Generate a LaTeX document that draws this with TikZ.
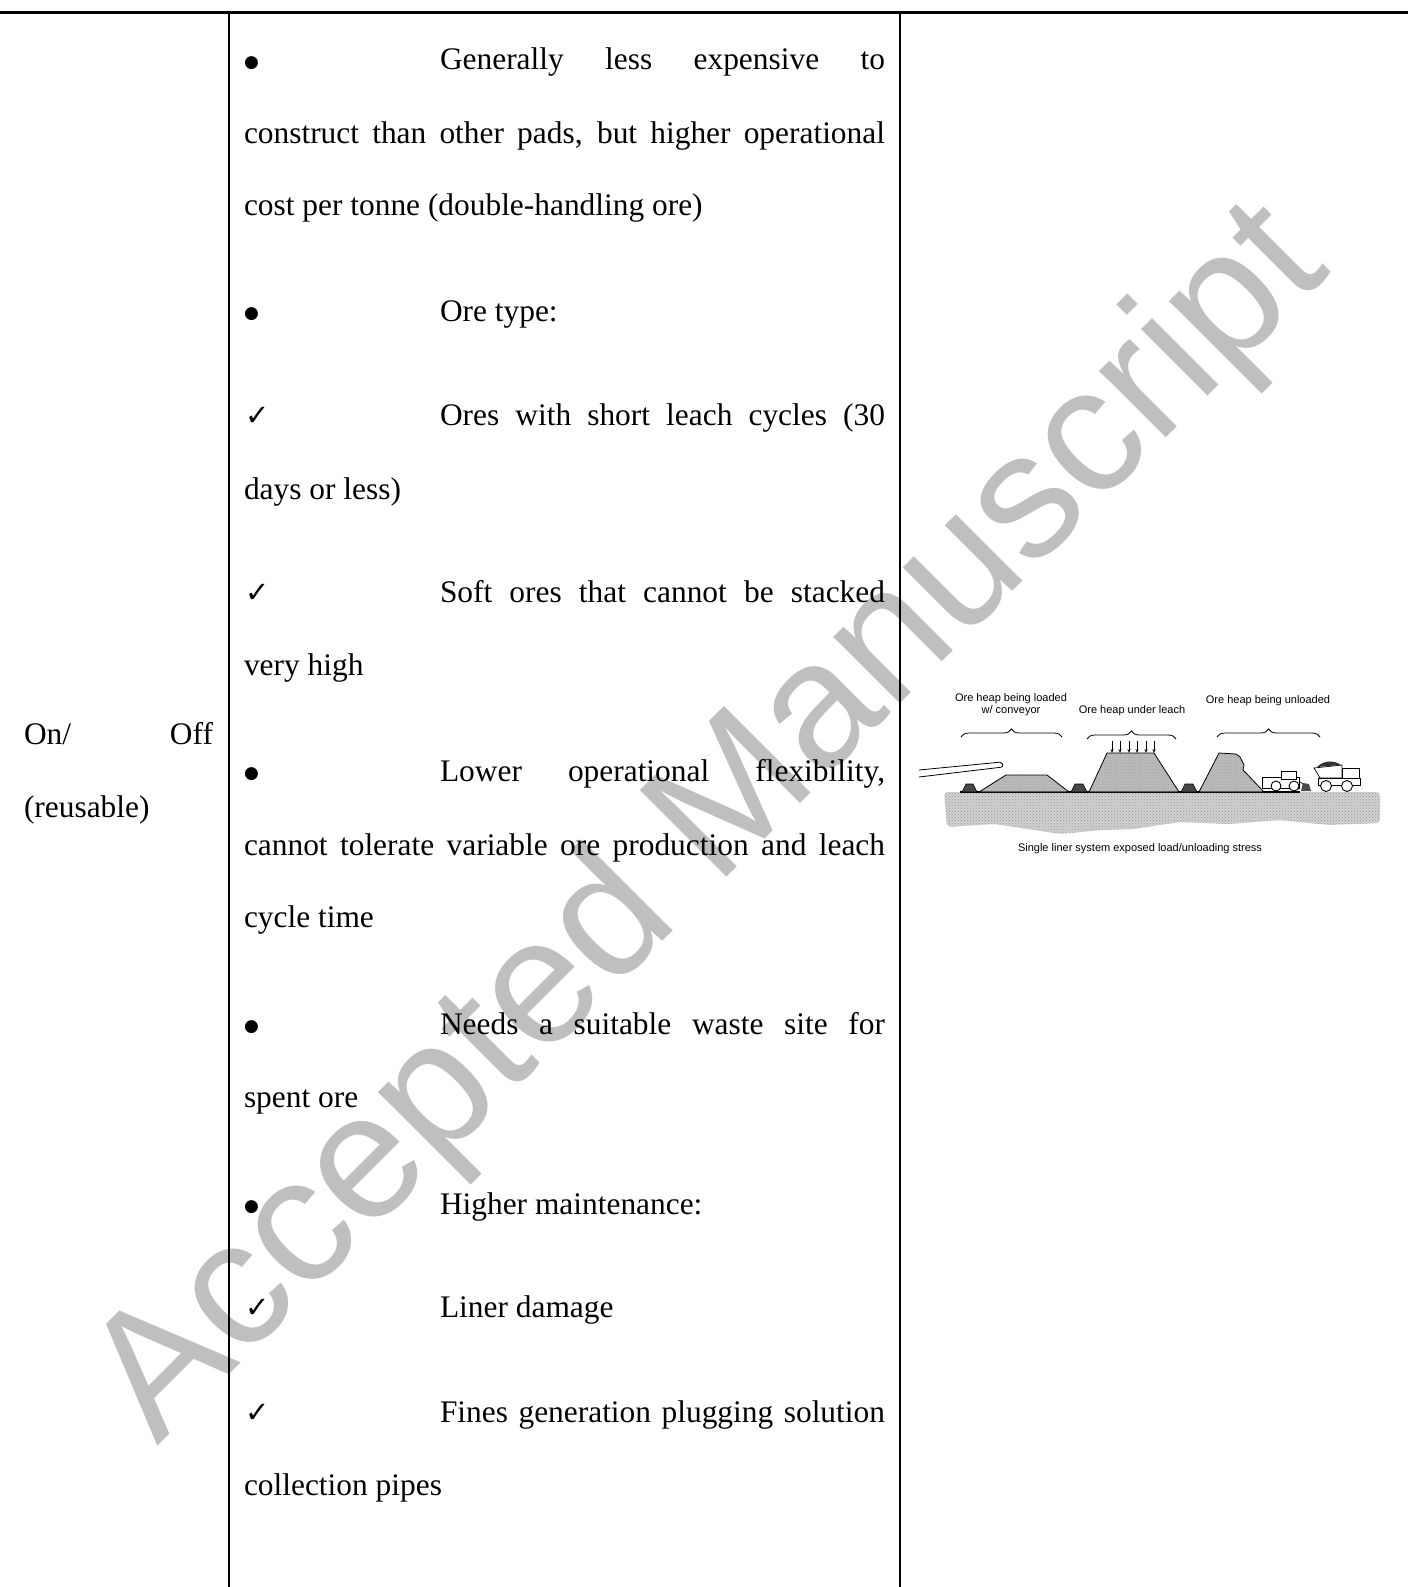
\documentclass[tikz,border=0pt]{standalone}
\usepackage{fontspec}
\setmainfont{Liberation Serif}
\newfontfamily\wmfont{Liberation Sans}
\newfontfamily\symfont{DejaVu Sans}
\usetikzlibrary{decorations.pathreplacing,arrows.meta,patterns}
\tikzset{
  txt/.style={anchor=base west,inner sep=0pt,outer sep=0pt,font=\fontsize{31.4}{37.7}\selectfont},
  chk/.style={anchor=base west,inner sep=0pt,outer sep=0pt,font=\symfont\fontsize{29}{29}\selectfont},
  bul/.style={anchor=base west,inner sep=0pt,outer sep=0pt,yshift=3pt,font=\symfont\fontsize{17}{17}\selectfont},
  figtxt/.style={anchor=base,inner sep=0pt,outer sep=0pt,font=\wmfont\fontsize{11}{13}\selectfont},
  rule/.style={line width=2pt},
  heap/.style={draw=black,line width=0.8pt,fill=black!33},
  heapdots/.style={pattern=crosshatch dots,pattern color=black!55},
  berm/.style={draw=black,line width=0.6pt,fill=black!72},
  ground/.style={fill=black!18},
  grounddots/.style={pattern=crosshatch dots,pattern color=black!40},
  brc/.style={decorate,decoration={brace,amplitude=8pt},line width=0.8pt},
  downarr/.style={-{Stealth[length=4pt,width=3pt]},line width=0.6pt},
  mach/.style={draw=black,fill=white,line width=0.7pt},
}
\begin{document}
\begin{tikzpicture}[x=1pt,y=-1pt]
\useasboundingbox (0,0) rectangle (1408,1587);
% watermark
\node[anchor=base west,inner sep=0pt,rotate=45,text=black!25,font=\wmfont\fontsize{178}{178}\selectfont] (wm) at (157,1447) {Accepted Manuscript};
% table rules
\coordinate (tl) at (0,13); \coordinate (tr) at (1408,13);
\coordinate (v1t) at (229,13); \coordinate (v1b) at (229,1587);
\coordinate (v2t) at (900,13); \coordinate (v2b) at (900,1587);
\draw[line width=3pt] (tl) -- (tr);
\draw[rule] (v1t) -- (v1b);
\draw[rule] (v2t) -- (v2b);
% left column
\node[txt] (on) at (24,744) {\makebox[189pt][s]{On/ Off}};
\node[txt] (reu) at (24,817) {(reusable)};
% middle column
\node[bul] (b1) at (244,70) {●};
\node[txt] (l1) at (440,70) {\makebox[445pt][s]{Generally less expensive to}};
\node[txt] (l2) at (244,143) {\makebox[641pt][s]{construct than other pads, but higher operational}};
\node[txt] (l3) at (244,215) {cost per tonne (double-handling ore)};
\node[bul] (b4) at (244,321) {●};
\node[txt] (l4) at (440,321) {Ore type:};
\node[chk] (c5) at (245,425) {✓};
\node[txt] (l5) at (440,425) {\makebox[445pt][s]{Ores with short leach cycles (30}};
\node[txt] (l6) at (244,499) {days or less)};
\node[chk] (c7) at (245,602) {✓};
\node[txt] (l7) at (440,602) {\makebox[445pt][s]{Soft ores that cannot be stacked}};
\node[txt] (l8) at (244,675) {very high};
\node[bul] (b9) at (244,781) {●};
\node[txt] (l9) at (440,781) {\makebox[445pt][s]{Lower operational flexibility,}};
\node[txt] (l10) at (244,855) {\makebox[641pt][s]{cannot tolerate variable ore production and leach}};
\node[txt] (l11) at (244,927) {cycle time};
\node[bul] (b12) at (244,1034) {●};
\node[txt] (l12) at (440,1034) {\makebox[445pt][s]{Needs a suitable waste site for}};
\node[txt] (l13) at (244,1107) {spent ore};
\node[bul] (b14) at (244,1214) {●};
\node[txt] (l14) at (440,1214) {Higher maintenance:};
\node[chk] (c15) at (245,1317) {✓};
\node[txt] (l15) at (440,1317) {Liner damage};
\node[chk] (c16) at (245,1422) {✓};
\node[txt] (l16) at (440,1422) {\makebox[445pt][s]{Fines generation plugging solution}};
\node[txt] (l17) at (244,1495) {collection pipes};
% ---- figure ----
\def\groundpath{(944,792) -- (1380,792) -- (1380,823) -- (1329,825) -- (1279,820) -- (1229,824) -- (1179,822) -- (1134,829) -- (1101,830) -- (1061,834) -- (994,824) -- (947,827) -- cycle}
\fill[ground,rounded corners=4pt] \groundpath;
\fill[grounddots,rounded corners=4pt] \groundpath;
\draw[line width=1.2pt] (960,792) -- (1300,792);
% berms
\draw[berm] (962,792) -- (966,784) -- (973,784) -- (977,792) -- cycle;
\draw[berm] (1071,792) -- (1075,784) -- (1083,784) -- (1087,792) -- cycle;
\draw[berm] (1181,792) -- (1185,784) -- (1193,784) -- (1197,792) -- cycle;
% heaps
\def\heapA{(979,792) -- (1006,775) -- (1047,775) -- (1069,792) -- cycle}
\def\heapB{(1089,792) -- (1107,753) -- (1154,753) -- (1179,792) -- cycle}
\def\heapC{(1199,792) -- (1219,753) -- (1236,754) -- (1240,757) -- (1244,765) -- (1243,770) -- (1246,773) -- (1264,792) -- cycle}
\fill[heapdots] \heapA; \draw[heap,fill opacity=0.8] \heapA;
\fill[heapdots] \heapB; \draw[heap,fill opacity=0.8] \heapB;
\fill[heapdots] \heapC; \draw[heap,fill opacity=0.8] \heapC;
% conveyor
\draw[fill=white,line width=0.8pt,rounded corners=2pt] (919,770) -- (1002,762) -- (1003,767) -- (919,777);
% arrows
\foreach \ax in {1112,1120,1129,1137,1146,1154} \draw[downarr] (\ax,741) -- (\ax,753);
% braces
\draw[brc] (961,737) -- (1062,737);
\draw[brc] (1087,739) -- (1176,739);
\draw[brc] (1217,737) -- (1320,737);
% loader
\draw[mach] (1262,777) rectangle (1299,788);
\draw[mach] (1281,771) rectangle (1296,779);
\draw[line width=0.7pt] (1299,781) -- (1304,785);
\fill[black!70] (1301,791) -- (1303,783) -- (1309,784) -- (1311,791) -- cycle;
\draw[mach,line width=0.9pt] (1276,786) circle (5);
\draw[mach,line width=0.9pt] (1294,786) circle (5);
% truck
\draw[mach] (1314,768) -- (1342,765) -- (1342,778) -- (1320,778) -- cycle;
\fill[black!80] (1317,767) .. controls (1324,760) and (1334,760) .. (1341,765) -- cycle;
\draw[mach] (1342,768) rectangle (1359,781);
\draw[mach] (1318,778) rectangle (1360,785);
\draw[mach,line width=0.9pt] (1326,786) circle (5.5);
\draw[mach,line width=0.9pt] (1347,786) circle (5.5);
% labels
\node[figtxt] (f1a) at (1011,701) {Ore heap being loaded};
\node[figtxt] (f1b) at (1011,713) {w/ conveyor};
\node[figtxt] (f2) at (1132,713) {Ore heap under leach};
\node[figtxt] (f3) at (1268,703) {Ore heap being unloaded};
\node[figtxt] (cap) at (1140,851) {Single liner system exposed load/unloading stress};
\end{tikzpicture}
\end{document}
